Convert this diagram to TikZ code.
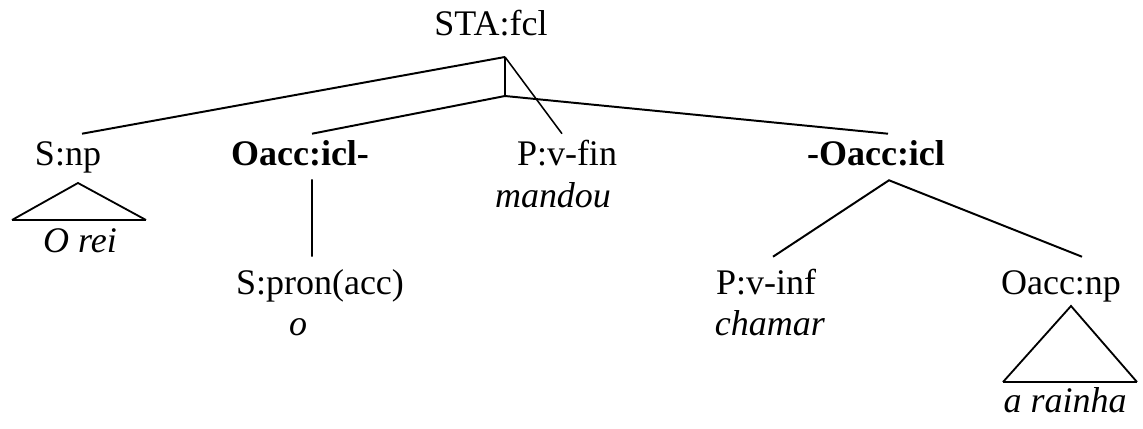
\documentclass[tikz,border=0pt]{standalone}
\usepackage{fontspec}
\setmainfont{Liberation Serif}

\begin{document}
\begin{tikzpicture}[
    lbl/.style={anchor=base, inner sep=0.075cm, text height=0.7cm, text depth=0.2cm,
                font=\fontsize{25.6}{30}\selectfont},
    edge/.style={line width=1.4pt},
    thinedge/.style={line width=1.1pt},
    roof/.style={line width=1.3pt, line join=miter}]
\useasboundingbox (0,0) rectangle (28.575,10.7);

% labels
\node[lbl] (sta) at (12.275,9.8) {STA:fcl};
\foreach \nm/\x/\y/\txt in {
    snp/1.7/6.575/{S:np},
    oaccl/7.5/6.575/{\textbf{Oacc:icl-}},
    pvfin/14.175/6.575/{P:v-fin},
    mandou/13.825/5.525/{\textit{mandou}},
    oaccr/21.9/6.575/{\textbf{-Oacc:icl}},
    orei/2.0/4.4/{\textit{O rei}},
    spron/8.0/3.35/{S:pron(acc)},
    pron/7.45/2.325/{\textit{o}},
    pvinf/19.15/3.35/{P:v-inf},
    chamar/19.25/2.325/{\textit{chamar}},
    oaccnp/26.525/3.35/{Oacc:np},
    rainha/26.625/0.4/{\textit{a rainha}}
} {
    \node[lbl] (\nm) at (\x,\y) {\txt};
}

% branching points under STA:fcl
\coordinate (top) at (12.625,9.275);
\coordinate (mid) at (12.625,8.3);

\draw[edge] (top) -- ([xshift=0.35cm]snp.north);
\draw[thinedge] (top) -- ([xshift=-0.125cm]pvfin.north);
\draw[thinedge] (top) -- (mid);
\draw[edge] (mid) -- ([xshift=0.3cm]oaccl.north);
\draw[edge] (mid) -- ([xshift=0.3cm]oaccr.north);

\draw[thinedge] ([xshift=0.3cm,yshift=-0.075cm]oaccl.south) -- ([xshift=-0.2cm,yshift=0.15cm]spron.north);

\draw[edge] ([xshift=0.175cm,yshift=0.15cm]pvinf.north) -- ([xshift=0.325cm,yshift=-0.1cm]oaccr.south)
    -- ([xshift=0.525cm,yshift=0.15cm]oaccnp.north);

% roofs
\draw[roof] (0.3,5.2) -- (1.95,6.125) -- (3.65,5.2);
\draw[line width=2pt] (0.3,5.2) -- (3.65,5.2);
\draw[roof] (25.075,1.15) -- (26.775,3.05) -- (28.425,1.15);
\draw[line width=2pt] (25.075,1.15) -- (28.425,1.15);
\end{tikzpicture}
\end{document}
